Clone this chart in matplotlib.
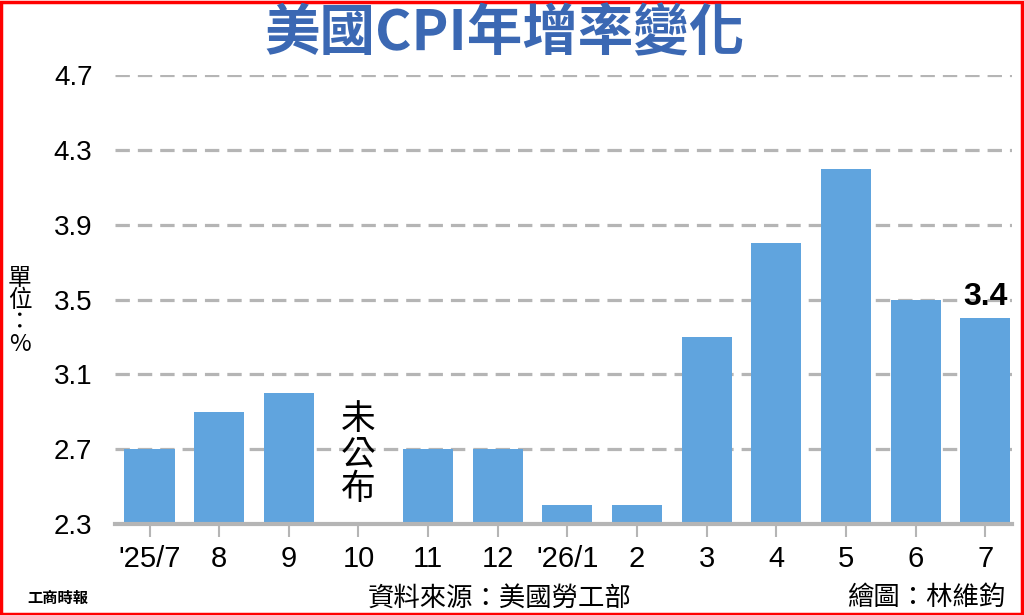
import matplotlib.pyplot as plt
import numpy as np
from matplotlib.patches import Rectangle

plt.rcParams['font.family'] = ['Liberation Sans', 'Noto Sans CJK TC', 'DejaVu Sans']

# data
months = ["'25/7", "8", "9", "10", "11", "12", "'26/1", "2", "3", "4", "5", "6", "7"]
cpi = [2.7, 2.9, 3.0, np.nan, 2.7, 2.7, 2.4, 2.4, 3.3, 3.8, 4.2, 3.5, 3.4]
yticks = [2.3, 2.7, 3.1, 3.5, 3.9, 4.3, 4.7]

barColor = "#60a4de"
gridColor = "#b5b5b5"
titleColor = "#3b68b3"
cjk = ['Noto Sans CJK TC', 'DejaVu Sans']

fig = plt.figure(figsize=(10.24, 6.15), dpi=100, facecolor='white')
ax = fig.add_axes([0.112, 0.148, 0.876, 0.73])

x = np.arange(len(months))
vals = np.array(cpi)
base = yticks[0]
ax.bar(x, vals - base, bottom=base, width=0.72, color=barColor, zorder=3)

ax.set_ylim(yticks[0], yticks[-1])
ax.set_xlim(-0.5, 12.38)
ax.set_yticks(yticks)
ax.set_yticklabels([str(v) for v in yticks], fontsize=20)
ax.set_xticks(x)
ax.set_xticklabels(months, fontsize=21)
ax.tick_params(axis='y', length=0, pad=16)
ax.tick_params(axis='x', length=9, width=1.5, color=gridColor, direction='out', pad=6)

for v in yticks[1:]:
    ax.axhline(v, color=gridColor, lw=2.3, ls=(0, (4.5, 2.5)), zorder=1)

for s in ['top', 'right', 'left']:
    ax.spines[s].set_visible(False)
ax.spines['bottom'].set_color(gridColor)
ax.spines['bottom'].set_linewidth(3)
ax.spines['bottom'].set_zorder(4)

# not published marker
ax.text(3, 2.67, "未\n公\n布", ha='center', va='center', fontsize=25,
        family=cjk, linespacing=1.0, zorder=5)
# last value label
ax.text(x[-1], cpi[-1] + 0.035, "3.4", ha='center', va='bottom', fontsize=23,
        fontweight='bold', family=['Liberation Sans', 'DejaVu Sans'], zorder=5)

fig.text(0.493, 0.945, "美國CPI年增率變化", ha='center', va='center', fontsize=40,
         fontweight='bold', color=titleColor, family=cjk)
fig.text(0.019, 0.493, "單\n位\n：\n%", ha='center', va='center', fontsize=17,
         family=cjk, linespacing=0.95)

fig.text(0.027, 0.028, "工商時報", ha='left', va='center', fontsize=11,
         fontweight='heavy', family=cjk)
fig.text(0.488, 0.028, "資料來源：美國勞工部", ha='center', va='center', fontsize=19,
         family=cjk)
fig.text(0.982, 0.028, "繪圖：林維鈞", ha='right', va='center', fontsize=19,
         family=cjk)

fig.patches.append(Rectangle((0.001, 0.002), 0.997, 0.995, transform=fig.transFigure,
                             fill=False, edgecolor='red', lw=2.5))

fig.savefig("out.png", dpi=100, facecolor='white')
